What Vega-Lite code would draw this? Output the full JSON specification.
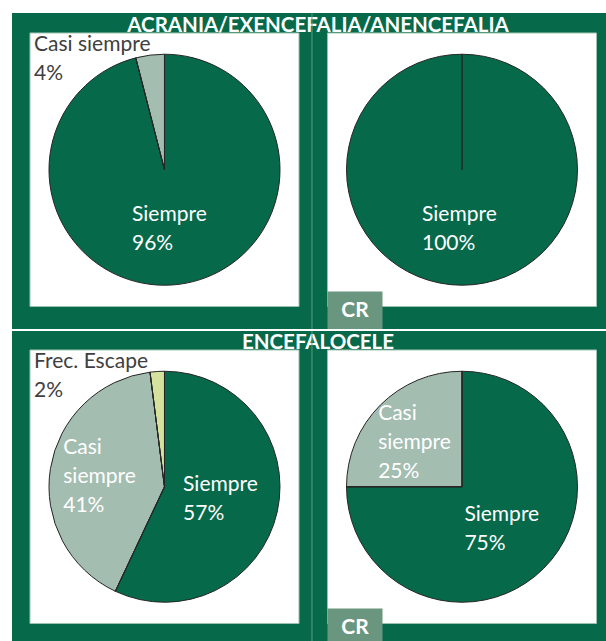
{
  "$schema": "https://vega.github.io/schema/vega-lite/v6.json",
  "width": 594,
  "height": 628,
  "autosize": {"type": "none"},
  "padding": {"left": 12, "top": 13, "right": 0, "bottom": 0},
  "background": "#ffffff",
  "config": {"view": {"fill": "#06694A", "stroke": null}, "text": {"font": "Lato"}},
  "data": {"values": [
    {"grupo": "ACRANIA/EXENCEFALIA/ANENCEFALIA", "panel": "General", "categoria": "Siempre", "valor": 96},
    {"grupo": "ACRANIA/EXENCEFALIA/ANENCEFALIA", "panel": "General", "categoria": "Casi siempre", "valor": 4},
    {"grupo": "ACRANIA/EXENCEFALIA/ANENCEFALIA", "panel": "CR", "categoria": "Siempre", "valor": 100},
    {"grupo": "ENCEFALOCELE", "panel": "General", "categoria": "Siempre", "valor": 57},
    {"grupo": "ENCEFALOCELE", "panel": "General", "categoria": "Casi siempre", "valor": 41},
    {"grupo": "ENCEFALOCELE", "panel": "General", "categoria": "Frec. Escape", "valor": 2},
    {"grupo": "ENCEFALOCELE", "panel": "CR", "categoria": "Siempre", "valor": 75},
    {"grupo": "ENCEFALOCELE", "panel": "CR", "categoria": "Casi siempre", "valor": 25}
  ]},
  "transform": [
    {"stack": "valor", "groupby": ["grupo", "panel"], "sort": [{"field": "valor", "order": "descending"}], "as": ["t0", "t1"]},
    {"calculate": "(datum.t0 + datum.t1) / 2", "as": "tm"},
    {"calculate": "datum.categoria + ' ' + datum.valor + '%'", "as": "etq"},
    {"calculate": "datum.categoria + '\\n' + datum.valor + '%'", "as": "etq2"}
  ],
  "layer": [
    {
      "transform": [{"aggregate": [{"op": "count", "as": "n"}], "groupby": ["grupo", "panel"]}],
      "mark": {"type": "rect", "fill": "#ffffff", "stroke": "#9BC2AF", "strokeWidth": 1},
      "encoding": {
        "x": {"field": "panel", "type": "nominal", "axis": null, "scale": {"type": "band", "domain": ["General", "CR"], "paddingInner": 0.0958, "paddingOuter": 0.0462, "align": 0.6545, "round": false}},
        "y": {"field": "grupo", "type": "nominal", "axis": null, "scale": {"type": "band", "domain": ["ACRANIA/EXENCEFALIA/ANENCEFALIA", "ENCEFALOCELE"], "paddingInner": 0.1372, "paddingOuter": 0.0591, "align": 0.533, "round": false}}
      }
    },
    {
      "mark": {"type": "arc", "radius": 115.5, "stroke": "#262626", "strokeWidth": 1},
      "encoding": {
        "x": {"field": "panel", "type": "nominal", "axis": null, "bandPosition": 0.5, "scale": {"type": "band", "domain": ["General", "CR"], "paddingInner": 0.0958, "paddingOuter": 0.0462, "align": 0.6545, "round": false}},
        "y": {"field": "grupo", "type": "nominal", "axis": null, "bandPosition": 0.5, "scale": {"type": "band", "domain": ["ACRANIA/EXENCEFALIA/ANENCEFALIA", "ENCEFALOCELE"], "paddingInner": 0.1372, "paddingOuter": 0.0591, "align": 0.533, "round": false}},
        "theta": {"field": "t0", "type": "quantitative", "stack": null, "scale": {"domain": [0, 100], "range": [0, 6.283185307179586]}},
        "theta2": {"field": "t1"},
        "color": {"field": "categoria", "type": "nominal", "legend": null, "scale": {"domain": ["Siempre", "Casi siempre", "Frec. Escape"], "range": ["#06694A", "#A3BDB1", "#D4E29D"]}}
      }
    },
    {
      "mark": {"type": "arc", "radius": 115.5, "fill": null, "filled": false, "stroke": "#262626", "strokeWidth": 1},
      "encoding": {
        "x": {"field": "panel", "type": "nominal", "axis": null, "bandPosition": 0.5, "scale": {"type": "band", "domain": ["General", "CR"], "paddingInner": 0.0958, "paddingOuter": 0.0462, "align": 0.6545, "round": false}},
        "y": {"field": "grupo", "type": "nominal", "axis": null, "bandPosition": 0.5, "scale": {"type": "band", "domain": ["ACRANIA/EXENCEFALIA/ANENCEFALIA", "ENCEFALOCELE"], "paddingInner": 0.1372, "paddingOuter": 0.0591, "align": 0.533, "round": false}},
        "theta": {"field": "t0", "type": "quantitative", "stack": null, "scale": {"domain": [0, 100], "range": [0, 6.283185307179586]}},
        "theta2": {"field": "t0"}
      }
    },
    {
      "transform": [{"filter": "datum.valor >= 5 && datum.categoria !== 'Casi siempre'"}],
      "mark": {"type": "text", "radius": 60, "color": "#ffffff", "fontSize": 21, "fontWeight": 400, "lineBreak": " ", "lineHeight": 29, "align": "left", "baseline": "middle", "dx": -40, "dy": -14.5},
      "encoding": {
        "x": {"field": "panel", "type": "nominal", "axis": null, "bandPosition": 0.5, "scale": {"type": "band", "domain": ["General", "CR"], "paddingInner": 0.0958, "paddingOuter": 0.0462, "align": 0.6545, "round": false}},
        "y": {"field": "grupo", "type": "nominal", "axis": null, "bandPosition": 0.5, "scale": {"type": "band", "domain": ["ACRANIA/EXENCEFALIA/ANENCEFALIA", "ENCEFALOCELE"], "paddingInner": 0.1372, "paddingOuter": 0.0591, "align": 0.533, "round": false}},
        "theta": {"field": "tm", "type": "quantitative", "stack": null, "scale": {"domain": [0, 100], "range": [0, 6.283185307179586]}},
        "text": {"field": "etq"}
      }
    },
    {
      "transform": [{"filter": "datum.valor >= 5 && datum.categoria === 'Casi siempre'"}],
      "mark": {"type": "text", "radius": 62, "color": "#ffffff", "fontSize": 21, "fontWeight": 400, "lineBreak": " ", "lineHeight": 29, "align": "left", "baseline": "middle", "dx": -40, "dy": -29},
      "encoding": {
        "x": {"field": "panel", "type": "nominal", "axis": null, "bandPosition": 0.5, "scale": {"type": "band", "domain": ["General", "CR"], "paddingInner": 0.0958, "paddingOuter": 0.0462, "align": 0.6545, "round": false}},
        "y": {"field": "grupo", "type": "nominal", "axis": null, "bandPosition": 0.5, "scale": {"type": "band", "domain": ["ACRANIA/EXENCEFALIA/ANENCEFALIA", "ENCEFALOCELE"], "paddingInner": 0.1372, "paddingOuter": 0.0591, "align": 0.533, "round": false}},
        "theta": {"field": "tm", "type": "quantitative", "stack": null, "scale": {"domain": [0, 100], "range": [0, 6.283185307179586]}},
        "text": {"field": "etq"}
      }
    },
    {
      "transform": [{"filter": "datum.valor < 5"}],
      "mark": {"type": "text", "color": "#404040", "fontSize": 21, "fontWeight": 400, "lineBreak": "\n", "lineHeight": 29, "align": "left", "baseline": "alphabetic", "dx": 4, "dy": 18.5},
      "encoding": {
        "x": {"field": "panel", "type": "nominal", "axis": null, "bandPosition": 0, "scale": {"type": "band", "domain": ["General", "CR"], "paddingInner": 0.0958, "paddingOuter": 0.0462, "align": 0.6545, "round": false}},
        "y": {"field": "grupo", "type": "nominal", "axis": null, "bandPosition": 0, "scale": {"type": "band", "domain": ["ACRANIA/EXENCEFALIA/ANENCEFALIA", "ENCEFALOCELE"], "paddingInner": 0.1372, "paddingOuter": 0.0591, "align": 0.533, "round": false}},
        "text": {"field": "etq2"}
      }
    },
    {
      "transform": [{"filter": "datum.panel === 'General'"}, {"aggregate": [{"op": "count", "as": "n"}], "groupby": ["grupo", "panel"]}],
      "mark": {"type": "text", "color": "#ffffff", "fontSize": 20.5, "fontWeight": "bold", "align": "center", "baseline": "alphabetic", "dx": 19, "dy": -1},
      "encoding": {
        "x": {"field": "panel", "type": "nominal", "axis": null, "bandPosition": 1, "scale": {"type": "band", "domain": ["General", "CR"], "paddingInner": 0.0958, "paddingOuter": 0.0462, "align": 0.6545, "round": false}},
        "y": {"field": "grupo", "type": "nominal", "axis": null, "bandPosition": 0, "scale": {"type": "band", "domain": ["ACRANIA/EXENCEFALIA/ANENCEFALIA", "ENCEFALOCELE"], "paddingInner": 0.1372, "paddingOuter": 0.0591, "align": 0.533, "round": false}},
        "text": {"field": "grupo"}
      }
    },
    {
      "transform": [{"filter": "datum.panel === 'General'"}, {"aggregate": [{"op": "count", "as": "n"}], "groupby": ["panel"]}],
      "mark": {"type": "rule", "color": "#5C9B81", "strokeWidth": 1, "xOffset": 13},
      "encoding": {
        "x": {"field": "panel", "type": "nominal", "axis": null, "bandPosition": 1, "scale": {"type": "band", "domain": ["General", "CR"], "paddingInner": 0.0958, "paddingOuter": 0.0462, "align": 0.6545, "round": false}}
      }
    },
    {
      "transform": [{"filter": "datum.panel === 'CR'"}, {"aggregate": [{"op": "count", "as": "n"}], "groupby": ["grupo", "panel"]}],
      "mark": {"type": "point", "shape": "M0,-0.5455L2,-0.5455L2,0.8182L0,0.8182Z", "size": 3025, "filled": true, "fill": "#6A9680", "opacity": 1, "strokeWidth": 0},
      "encoding": {
        "x": {"field": "panel", "type": "nominal", "axis": null, "bandPosition": 0, "scale": {"type": "band", "domain": ["General", "CR"], "paddingInner": 0.0958, "paddingOuter": 0.0462, "align": 0.6545, "round": false}},
        "y": {"field": "grupo", "type": "nominal", "axis": null, "bandPosition": 1, "scale": {"type": "band", "domain": ["ACRANIA/EXENCEFALIA/ANENCEFALIA", "ENCEFALOCELE"], "paddingInner": 0.1372, "paddingOuter": 0.0591, "align": 0.533, "round": false}}
      }
    },
    {
      "transform": [{"filter": "datum.panel === 'CR'"}, {"aggregate": [{"op": "count", "as": "n"}], "groupby": ["grupo", "panel"]}],
      "mark": {"type": "text", "color": "#ffffff", "fontSize": 21, "fontWeight": "bold", "align": "center", "baseline": "alphabetic", "dx": 27.5, "dy": 10.5},
      "encoding": {
        "x": {"field": "panel", "type": "nominal", "axis": null, "bandPosition": 0, "scale": {"type": "band", "domain": ["General", "CR"], "paddingInner": 0.0958, "paddingOuter": 0.0462, "align": 0.6545, "round": false}},
        "y": {"field": "grupo", "type": "nominal", "axis": null, "bandPosition": 1, "scale": {"type": "band", "domain": ["ACRANIA/EXENCEFALIA/ANENCEFALIA", "ENCEFALOCELE"], "paddingInner": 0.1372, "paddingOuter": 0.0591, "align": 0.533, "round": false}},
        "text": {"field": "panel"}
      }
    },
    {
      "transform": [{"filter": "datum.grupo === 'ACRANIA/EXENCEFALIA/ANENCEFALIA'"}, {"aggregate": [{"op": "count", "as": "n"}], "groupby": ["grupo"]}],
      "mark": {"type": "rule", "color": "#ffffff", "strokeWidth": 2, "yOffset": 23.5},
      "encoding": {
        "y": {"field": "grupo", "type": "nominal", "axis": null, "bandPosition": 1, "scale": {"type": "band", "domain": ["ACRANIA/EXENCEFALIA/ANENCEFALIA", "ENCEFALOCELE"], "paddingInner": 0.1372, "paddingOuter": 0.0591, "align": 0.533, "round": false}}
      }
    }
  ]
}
